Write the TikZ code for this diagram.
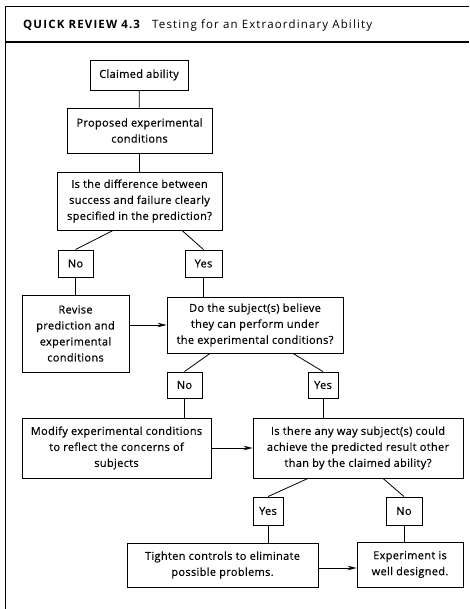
\documentclass[tikz,border=0pt]{standalone}
\usepackage{fontspec}
\setmainfont{Open Sans}
\newfontfamily\bodyfont{Open Sans}[LetterSpace=3,FakeBold=0.4]
\newfontfamily\headfont{Open Sans}[LetterSpace=10]
\usetikzlibrary{arrows.meta}
\begin{document}
\begin{tikzpicture}[x=1pt,y=-1pt,
  box/.style={draw, line width=0.9pt, align=center, inner sep=0pt,
    font=\bodyfont\fontsize{11}{16}\selectfont},
  conn/.style={line width=0.8pt},
  arr/.style={line width=0.8pt, -{Stealth[length=9pt,width=4.5pt]}},
  frameline/.style={line width=1.4pt},
  hdr/.style={anchor=base west, inner sep=0pt}]
\useasboundingbox (0,0) rectangle (469,609);
% frame
\coordinate (fbl) at (5.5,609);
\coordinate (ftl) at (5.5,6.5);
\coordinate (ftr) at (469,6.5);
\coordinate (fhl) at (5.5,42);
\coordinate (fhr) at (469,42);
\draw[frameline] (fbl) -- (ftl) -- (ftr);
\draw[frameline] (fhl) -- (fhr);
\node[hdr, font=\headfont\bfseries\fontsize{11.5}{13}\selectfont] (hd) at (23,29) {QUICK REVIEW 4.3};
\node[hdr, font=\headfont\fontsize{11.5}{13}\selectfont] (ht) at (152,29) {Testing for an Extraordinary Ability};
% boxes
\node[box, minimum width=98pt, minimum height=30pt] (claim) at (139,75) {Claimed ability};
\node[box, minimum width=145pt, minimum height=45pt] (prop) at (139.5,130.5) {Proposed experimental\\conditions};
\node[box, minimum width=165pt, minimum height=58pt] (diff) at (139.5,201) {Is the difference between\\success and failure clearly\\specified in the prediction?};
\node[box, minimum width=35pt, minimum height=27pt] (no1) at (75.5,263.5) {No};
\node[box, minimum width=37pt, minimum height=27pt] (yes1) at (203.5,263.5) {Yes};
\node[box, minimum width=107pt, minimum height=77pt] (revise) at (75.5,333.5) {Revise\\prediction and\\experimental\\conditions};
\node[box, minimum width=176pt, minimum height=56pt] (do) at (255,325) {Do the subject(s) believe\\they can perform under\\the experimental conditions?};
\node[box, minimum width=35pt, minimum height=26pt] (no2) at (184.5,385) {No};
\node[box, minimum width=30pt, minimum height=26pt] (yes2) at (323,385) {Yes};
\node[box, minimum width=189pt, minimum height=60pt] (modify) at (116.5,448) {Modify experimental conditions\\to reflect the concerns of\\subjects};
\node[box, minimum width=210pt, minimum height=60pt] (isthere) at (358,448) {Is there any way subject(s) could\\achieve the predicted result other\\than by the claimed ability?};
\node[box, minimum width=30pt, minimum height=28pt] (yes3) at (268,511) {Yes};
\node[box, minimum width=36pt, minimum height=28pt] (no3) at (404,511) {No};
\node[box, minimum width=191pt, minimum height=44pt] (tighten) at (222.5,565) {Tighten controls to eliminate\\possible problems.};
\node[box, minimum width=106pt, minimum height=45pt] (exp) at (410,564.5) {Experiment is\\well designed.};
% connectors
\draw[conn] (claim) -- (prop);
\draw[conn] (prop) -- (diff);
\draw[conn] ([xshift=-26.5pt]diff.south) -- (no1.north);
\draw[conn] ([xshift=42.5pt]diff.south) -- (yes1.north);
\draw[conn] (no1) -- (revise);
\draw[conn] (yes1.south) -- (yes1.south |- do.north);
\draw[arr] (revise.east |- do.west) -- (do.west);
\draw[conn] ([xshift=-45pt]do.south) -- (no2.north);
\draw[conn] ([xshift=38pt]do.south) -- (yes2.north);
\draw[conn] (no2.south) -- (no2.south |- modify.north);
\draw[conn] (yes2.south) -- (yes2.south |- isthere.north);
\draw[arr] (modify.east) -- (modify.east -| isthere.west);
\draw[conn] ([xshift=-50pt]isthere.south) -- (yes3.north);
\draw[conn] ([xshift=25pt]isthere.south) -- (no3.north);
\draw[conn] (yes3.south) -- (yes3.south |- tighten.north);
\draw[conn] (no3.south) -- (no3.south |- exp.north);
\draw[arr] ([yshift=-3pt]tighten.east) -- ([yshift=-3pt]tighten.east -| exp.west);
\end{tikzpicture}
\end{document}
